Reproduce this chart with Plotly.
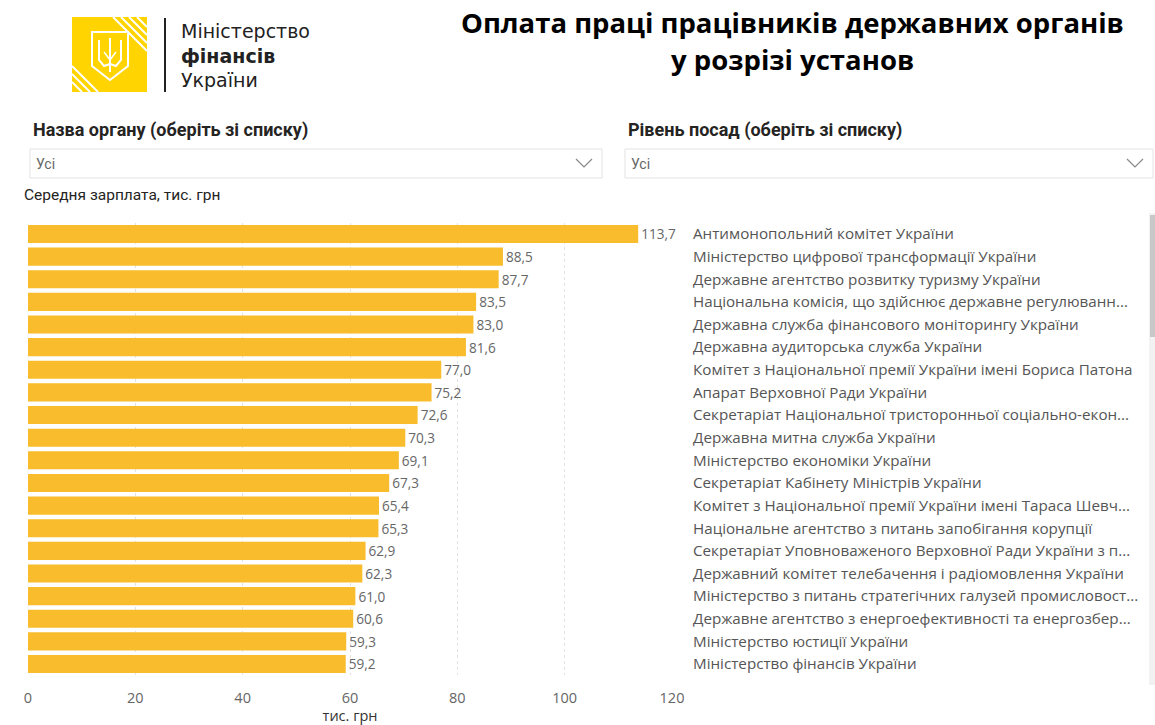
import plotly.graph_objects as go

W, H = 1155, 725

categories = [
    "Антимонопольний комітет України",
    "Міністерство цифрової трансформації України",
    "Державне агентство розвитку туризму України",
    "Національна комісія, що здійснює державне регулюванн...",
    "Державна служба фінансового моніторингу України",
    "Державна аудиторська служба України",
    "Комітет з Національної премії України імені Бориса Патона",
    "Апарат Верховної Ради України",
    "Секретаріат Національної тристоронньої соціально-екон...",
    "Державна митна служба України",
    "Міністерство економіки України",
    "Секретаріат Кабінету Міністрів України",
    "Комітет з Національної премії України імені Тараса Шевч...",
    "Національне агентство з питань запобігання корупції",
    "Секретаріат Уповноваженого Верховної Ради України з п...",
    "Державний комітет телебачення і радіомовлення України",
    "Міністерство з питань стратегічних галузей промисловост...",
    "Державне агентство з енергоефективності та енергозбер...",
    "Міністерство юстиції України",
    "Міністерство фінансів України",
]
values = [113.7, 88.5, 87.7, 83.5, 83.0, 81.6, 77.0, 75.2, 72.6, 70.3,
          69.1, 67.3, 65.4, 65.3, 62.9, 62.3, 61.0, 60.6, 59.3, 59.2]
x_ticks = [0, 20, 40, 60, 80, 100, 120]

title_lines = ["Оплата праці працівників державних органів", "у розрізі установ"]
filter_labels = ["Назва органу (оберіть зі списку)", "Рівень посад (оберіть зі списку)"]
filter_value = "Усі"
measure_label = "Середня зарплата, тис. грн"
x_title = "тис. грн"
logo_lines = ["Міністерство", "фінансів", "України"]

BAR = "#F8BC2C"
FONT = "Open Sans"


def px(x):
    return x / W


def py(y):
    return 1 - y / H


fig = go.Figure()
fig.add_trace(go.Bar(
    x=values,
    y=categories,
    orientation="h",
    marker=dict(color=BAR, line=dict(width=0)),
    texttemplate="%{x:.1f}",
    textposition="outside",
    textfont=dict(family=FONT, size=15, color="#666666"),
    cliponaxis=False,
    hoverinfo="x+y",
))

top_px = 222.7
row_px = 22.63
n = len(categories)

shapes = []
annotations = []

LOGO = "#FFD400"
shapes.append(dict(type="rect", xref="paper", yref="paper",
                   x0=px(72), x1=px(147), y0=py(92), y1=py(17),
                   fillcolor=LOGO, line=dict(width=0), layer="above"))
for k in [10, 18, 26]:
    shapes.append(dict(type="line", xref="paper", yref="paper",
                       x0=px(72), y0=py(92 - k), x1=px(72 + k), y1=py(92),
                       line=dict(color="white", width=2), layer="above"))
for k in [10, 18, 26, 34]:
    shapes.append(dict(type="line", xref="paper", yref="paper",
                       x0=px(147 - k), y0=py(17), x1=px(147), y1=py(17 + k),
                       line=dict(color="white", width=2), layer="above"))


def path_px(points, close=True):
    s = "M " + " L ".join(f"{px(a):.5f},{py(b):.5f}" for a, b in points)
    return s + (" Z" if close else "")


shield = [(92, 32), (128, 32), (128, 66), (110, 80), (92, 66)]
shapes.append(dict(type="path", xref="paper", yref="paper",
                   path=path_px(shield), fillcolor=LOGO,
                   line=dict(color="white", width=2), layer="above"))
shapes.append(dict(type="path", xref="paper", yref="paper",
                   path=path_px([(110, 38), (110, 72)], close=False),
                   line=dict(color="white", width=2), layer="above"))
for pts in ([(99, 40), (99, 60), (104, 66), (110, 64)],
            [(121, 40), (121, 60), (116, 66), (110, 64)]):
    shapes.append(dict(type="path", xref="paper", yref="paper",
                       path=path_px(pts, close=False),
                       line=dict(color="white", width=2), layer="above"))
shapes.append(dict(type="path", xref="paper", yref="paper",
                   path=path_px([(104, 52), (110, 60), (116, 52)], close=False),
                   line=dict(color="white", width=1.5), layer="above"))

shapes.append(dict(type="line", xref="paper", yref="paper",
                   x0=px(165), x1=px(165), y0=py(18), y1=py(92),
                   line=dict(color="#222222", width=2)))

annotations.append(dict(
    text=logo_lines[0] + "<br><b>" + logo_lines[1] + "</b><br>" + logo_lines[2],
    x=px(180), y=py(55), xref="paper", yref="paper",
    xanchor="left", yanchor="middle", align="left", showarrow=False,
    borderpad=0,
    font=dict(family="DejaVu Sans", size=19, color="#222222")))

annotations += [
    dict(text="<b>" + title_lines[0] + "</b>", x=px(792), y=py(23), xref="paper", yref="paper",
         xanchor="center", yanchor="middle", showarrow=False,
         font=dict(family=FONT, size=27.5, color="#000000")),
    dict(text="<b>" + title_lines[1] + "</b>", x=px(792), y=py(60), xref="paper", yref="paper",
         xanchor="center", yanchor="middle", showarrow=False,
         font=dict(family=FONT, size=27.5, color="#000000")),
]

for (lx, bx0, bx1, label) in [(31, 30, 602, filter_labels[0]), (626, 625, 1153, filter_labels[1])]:
    annotations.append(dict(text="<b>" + label + "</b>", x=px(lx), y=py(130), xref="paper", yref="paper",
                            xanchor="left", yanchor="middle", showarrow=False,
                            font=dict(family="Roboto", size=18, color="#252423")))
    shapes.append(dict(type="rect", xref="paper", yref="paper",
                       x0=px(bx0), x1=px(bx1), y0=py(178), y1=py(149),
                       fillcolor="white", line=dict(color="#E3E3E3", width=1)))
    annotations.append(dict(text=filter_value, x=px(bx0 + 4), y=py(164), xref="paper", yref="paper",
                            xanchor="left", yanchor="middle", showarrow=False,
                            font=dict(family="Roboto", size=14, color="#666666")))
    cx = bx1 - 18
    shapes.append(dict(type="path", xref="paper", yref="paper",
                       path=path_px([(cx - 8, 159), (cx, 167), (cx + 8, 159)], close=False),
                       line=dict(color="#888888", width=1.2)))

annotations.append(dict(text=measure_label, x=px(22), y=py(195), xref="paper", yref="paper",
                        xanchor="left", yanchor="middle", showarrow=False,
                        font=dict(family="Roboto", size=15.5, color="#252423")))

shapes.append(dict(type="rect", xref="paper", yref="paper",
                   x0=px(1149), x1=px(1155), y0=py(685), y1=py(213),
                   fillcolor="#F2F2F2", line=dict(width=0)))
shapes.append(dict(type="rect", xref="paper", yref="paper",
                   x0=px(1150), x1=px(1155), y0=py(337), y1=py(215),
                   fillcolor="#C8C8C8", line=dict(width=0)))

fig.update_layout(
    width=W, height=H,
    margin=dict(l=0, r=0, t=0, b=0, autoexpand=False),
    paper_bgcolor="white", plot_bgcolor="white",
    separators=", ",
    showlegend=False,
    bargap=0.2,
    shapes=shapes,
    annotations=annotations,
    xaxis=dict(
        domain=[px(28), px(672)],
        range=[0, 120],
        tickvals=x_ticks,
        showgrid=True, gridcolor="#E2E2E2", griddash="dot", gridwidth=1,
        zeroline=False,
        showline=False,
        ticks="",
        automargin=False,
        ticklabelstandoff=12,
        tickfont=dict(family=FONT, size=14.5, color="#666666"),
        title=dict(text=x_title, font=dict(family=FONT, size=14.5, color="#333333"), standoff=4),
        anchor="y",
    ),
    yaxis=dict(
        domain=[py(top_px + row_px * n), py(top_px)],
        autorange="reversed",
        side="right",
        showgrid=False, showline=False, ticks="",
        automargin=False,
        ticklabelstandoff=20,
        tickfont=dict(family=FONT, size=15.2, color="#555555"),
        anchor="x",
    ),
)

fig.write_html("out.html")
